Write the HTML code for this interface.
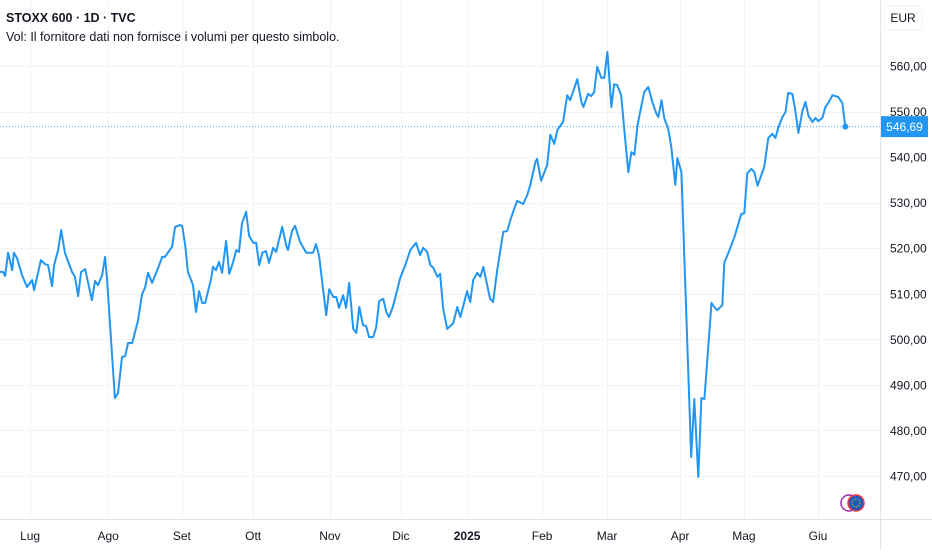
<!DOCTYPE html>
<html><head><meta charset="utf-8"><style>
body{margin:0;background:#fff;font-family:"Liberation Sans",sans-serif}
svg text{font-family:"Liberation Sans",sans-serif}
</style></head><body>
<svg id="c" width="932" height="550" xmlns="http://www.w3.org/2000/svg">
<rect width="932" height="550" fill="#fff"/>
<g id="grid"></g>
<g id="axes">
<line x1="880.5" y1="0" x2="880.5" y2="550" stroke="#e0e3eb"/>
<line x1="0" y1="519.5" x2="932" y2="519.5" stroke="#e0e3eb"/>
</g>
<text x="6" y="22" font-size="12.5" font-weight="bold" fill="#131722">STOXX 600 · 1D · TVC</text>
<text x="6" y="41" font-size="12.5" fill="#131722">Vol: Il fornitore dati non fornisce i volumi per questo simbolo.</text>
<rect x="884" y="6" width="38" height="24" rx="4" fill="#fff" stroke="#f0f3fa"/>
<text x="903" y="22" font-size="12" fill="#131722" text-anchor="middle">EUR</text>
<g id="ylab"></g><g id="xlab"></g><g id="series"></g>
<g>
<circle cx="849" cy="503" r="8" fill="#fff" stroke="#9c27b0" stroke-width="1.5"/>
<circle cx="856" cy="503" r="8" fill="#1e5bb8" stroke="#f23645" stroke-width="1.5"/>
<circle cx="856" cy="503" r="4" fill="none" stroke="#ffd600" stroke-width="1" stroke-dasharray="1 1.5"/>
</g>
</svg>
<script>
const days=[0,0.9,1.5,2.4,3.6,4.1,5.0,6.5,8.0,9.5,10.1,12.1,13.3,14.2,15.4,16.0,17.2,18.1,19.2,21.3,22.2,23.1,24.0,25.2,27.2,28.1,29.0,30.2,31.1,31.7,34.0,34.9,36.1,37.0,37.9,39.1,40.8,42.0,42.9,43.8,45.0,46.8,48.0,48.8,50.9,51.8,53.3,53.9,54.8,55.6,57.1,58.0,58.9,59.8,60.7,62.5,63.0,63.9,64.8,65.7,66.9,67.8,68.7,69.9,70.7,71.6,72.8,73.7,74.9,75.8,76.7,77.6,78.7,79.6,80.8,81.7,83.5,84.7,85.2,86.4,87.3,88.8,90.6,92.6,93.5,94.4,96.5,97.4,98.6,99.5,100.3,101.5,102.4,103.3,104.5,105.4,106.3,107.4,108.3,109.2,110.4,111.3,112.2,113.4,114.3,115.1,116.3,118.4,119.9,121.4,123.1,124.3,125.2,126.4,127.3,128.2,129.4,130.2,131.1,132.3,134.1,135.3,136.2,138.2,139.1,140.0,141.2,142.1,143.0,145.0,145.9,147.1,148.9,150.1,151.0,151.8,153.0,154.8,156.0,156.9,158.4,158.9,160.1,161.9,162.8,164.0,164.9,166.6,167.8,168.7,170.8,172.0,172.6,174.0,174.9,175.8,176.7,177.9,178.8,179.7,180.9,181.7,182.6,183.8,184.7,185.9,186.8,187.7,188.6,190.6,191.8,193.0,194.2,194.8,195.7,196.5,197.7,198.6,199.8,200.4,201.6,204.5,205.4,206.6,207.5,208.4,210.5,211.3,212.2,213.7,214.3,215.5,217.3,219.3,220.2,221.1,222.3,223.2,224.1,226.1,227.3,228.5,229.4,230.3,231.5,232.4,233.2,234.4,235.3,236.2,237.4,238.3,239.2,240.4,241.2,242.1,243.3,244.2,245.1,246.3,248.0,249.2,250.1];
const closes=[514.8,514.8,513.9,519.0,515.2,519.0,517.9,514.1,511.5,513.0,510.8,517.4,516.5,516.3,511.7,516.3,519.6,524.0,519.0,514.8,513.7,509.5,514.8,515.4,508.6,512.8,511.9,514.1,518.1,513.0,487.1,488.2,496.1,496.3,499.2,499.2,504.0,509.9,511.3,514.6,512.4,515.7,518.1,518.1,520.3,524.7,525.1,524.9,520.7,514.8,511.9,506.0,510.6,508.0,508.0,513.5,515.9,515.2,517.0,514.6,521.6,514.4,516.3,519.6,519.2,525.5,528.0,522.7,521.2,521.2,516.3,519.0,519.4,516.8,520.1,519.2,524.7,520.5,519.6,523.8,524.9,521.4,519.0,519.0,520.9,518.3,505.3,511.0,509.3,509.3,506.9,509.7,506.9,512.4,502.3,501.4,507.1,503.1,502.9,500.5,500.5,502.7,508.4,508.9,506.0,504.9,507.3,513.5,516.3,519.6,521.2,518.5,520.1,519.2,516.3,515.7,513.7,514.4,506.9,502.3,503.6,507.1,504.9,510.6,508.2,513.0,514.6,513.7,515.9,508.9,508.2,515.2,523.6,523.8,526.2,528.0,530.4,529.7,531.7,533.9,538.9,539.6,534.8,538.3,544.9,542.9,546.0,547.7,553.6,552.5,557.1,552.1,551.0,553.9,553.4,554.3,559.8,557.4,557.4,563.1,551.0,556.0,555.8,553.6,546.0,536.7,541.1,540.5,547.0,554.3,555.4,552.1,549.5,548.8,552.5,548.6,546.2,542.2,533.9,539.8,536.7,474.2,486.9,469.8,487.1,486.9,508.0,507.1,506.4,507.5,516.8,519.0,522.5,527.5,527.7,536.5,537.4,536.7,533.7,537.8,544.2,545.1,544.2,546.6,548.8,549.9,554.1,553.9,550.3,545.3,550.1,552.1,549.0,547.7,548.6,547.9,548.6,551.0,551.9,553.6,553.2,551.9,546.69];
const yTicks=[470,480,490,500,510,520,530,540,550,560];
const monthLabels=["Lug","Ago","Set","Ott","Nov","Dic","2025","Feb","Mar","Apr","Mag","Giu"];
const monthDays=[8.9,32.0,53.8,74.9,97.6,118.6,138.2,160.4,179.6,201.2,220.1,242.0];
const lastPrice=546.69;

const NS="http://www.w3.org/2000/svg";
const xs=d=>d*3.38;
const ys=v=>66+(560-v)*4.556;
function mk(tag,attrs,parent,text){const e=document.createElementNS(NS,tag);for(const k in attrs)e.setAttribute(k,attrs[k]);if(text!==undefined)e.textContent=text;parent.appendChild(e);return e;}
const grid=document.getElementById('grid'),ylab=document.getElementById('ylab'),xlab=document.getElementById('xlab'),ser=document.getElementById('series');
yTicks.forEach(v=>{
  const y=Math.round(ys(v))+0.5;
  const l=mk('line',{x1:0,x2:880,y1:y,y2:y,stroke:'#f0f3fa'},grid);
  
  
  const t=mk('text',{x:890,y:ys(v)+4.5,'font-size':12,fill:'#131722'},ylab,v.toFixed(2).replace('.',','));
  
  
});
monthDays.forEach((d,i)=>{
  const x=Math.round(xs(d))+0.5;
  const l=mk('line',{x1:x,x2:x,y1:0,y2:519,stroke:'#f0f3fa'},grid);
  
  
  const lab=monthLabels[i];
  const t=mk('text',{x:xs(d),y:540,'font-size':12,fill:'#131722','text-anchor':'middle','font-weight':lab==='2025'?'bold':'normal'},xlab,lab);
  
  
});
const py=ys(lastPrice);
const pl=mk('line',{x1:0,x2:880,y1:py,y2:py,stroke:'#2196f3','stroke-width':1,'stroke-dasharray':'1 2',opacity:0.8},ser);


const pts=days.map((d,i)=>xs(d).toFixed(1)+','+ys(closes[i]).toFixed(1)).join(' ');
const line=mk('polyline',{points:pts,fill:'none',stroke:'#2196f3','stroke-width':2,'stroke-linejoin':'round'},ser);


const dot=mk('circle',{cx:xs(days[days.length-1]),cy:py,r:3,fill:'#2196f3'},ser);


const box=mk('rect',{x:881,y:py-10.5,width:47,height:21,fill:'#2196f3'},ser);


const bt=mk('text',{x:904.5,y:py+4.5,'font-size':12,fill:'#fff','text-anchor':'middle'},ser,lastPrice.toFixed(2).replace('.',','));


</script>
</body></html>
